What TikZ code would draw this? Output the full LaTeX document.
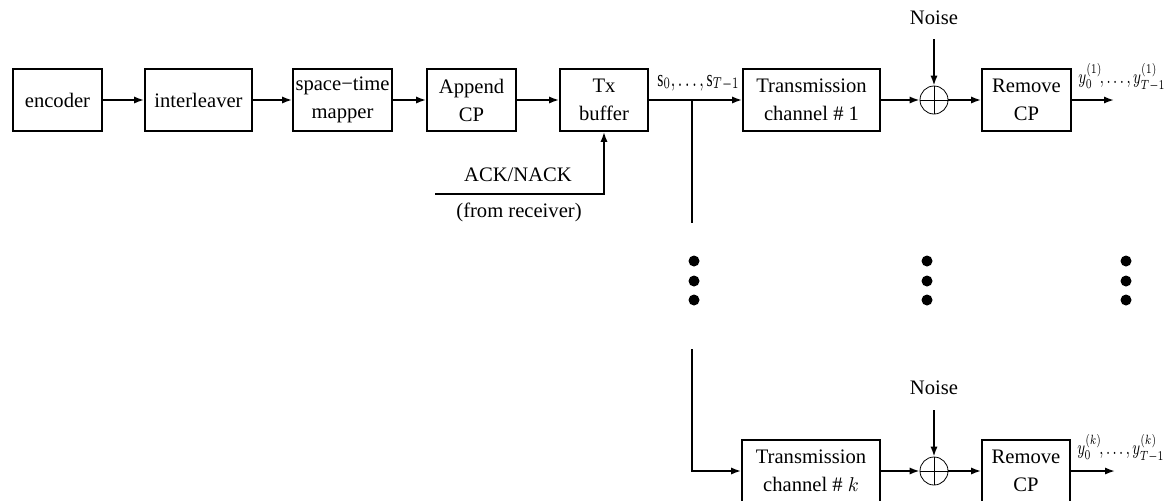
\documentclass[tikz,border=0pt]{standalone}
\usepackage{fontspec}
\usepackage{graphicx}
\setmainfont{Liberation Serif}
\usetikzlibrary{arrows.meta}
\begin{document}
\begin{tikzpicture}[x=0.5pt,y=-0.5pt,
  font=\fontsize{10.3}{14}\selectfont,
  blk/.style={draw,line width=0.9pt,inner sep=0pt,align=center,minimum height=31pt},
  con/.style={line width=0.9pt},
  arr/.style={line width=0.9pt,-{Latex[length=5pt,width=3.6pt]}},
  sumc/.style={draw,circle,line width=0.4pt,minimum size=14pt,inner sep=0pt},
  dot/.style={fill,circle,inner sep=0pt,minimum width=5.5pt,minimum height=5pt},
  lab/.style={inner sep=0pt,font=\fontsize{9}{10}\selectfont}]
\useasboundingbox (0,0) rectangle (1166,500);
% top row
\node[blk,minimum width=44.5pt] (enc) at (57.5,100) {encoder};
\node[blk,minimum width=53.5pt] (intl) at (198.5,100) {interleaver};
\node[blk,minimum width=49.5pt] (stm) at (342.5,100) {space−time\\mapper};
\node[blk,minimum width=44.5pt] (acp) at (471.5,100) {Append\\CP};
\node[blk,minimum width=44pt] (txb) at (604,100) {Tx\\buffer};
\node[blk,minimum width=68.5pt] (ch1) at (811.5,100) {Transmission\\channel \# 1};
\node[sumc] (s1) at (934,100) {};
\node[blk,minimum width=44.5pt] (rcp1) at (1026.5,100) {Remove\\CP};
\node (n1) at (934,18) {Noise};
\coordinate (n1s) at (934,39);
\coordinate (o1) at (1114,100);
\coordinate (br) at (692,100);
\coordinate (brd) at (692,223);
\node[lab,anchor=west] (slab) at (657,83) {\resizebox*{41pt}{8pt}{$\mathrm{s}_0,\ldots,\mathrm{s}_{T{-}1}$}};
\node[lab,anchor=west] (ylab1) at (1078,77) {\resizebox*{43.5pt}{14pt}{$y_0^{(1)}\!,\ldots,y_{T{-}1}^{(1)}$}};
% feedback
\coordinate (ackst) at (435,194);
\coordinate (ackc) at (604,194);
\node (ack) at (518,175) {ACK/NACK};
\node (frm) at (519,212) {(from receiver)};
% edges top
\draw[arr] (enc) -- (intl);
\draw[arr] (intl) -- (stm);
\draw[arr] (stm) -- (acp);
\draw[arr] (acp) -- (txb);
\draw[arr] (txb) -- (ch1);
\draw[con] (br) -- (brd);
\draw[arr] (ch1) -- (s1);
\draw[arr] (s1) -- (rcp1);
\draw[arr] (n1s) -- (s1);
\draw[arr] (rcp1) -- (o1);
\draw[arr] (ackst) -- (ackc) -- (txb);
\draw[line width=0.4pt] (s1.north) -- (s1.south) (s1.west) -- (s1.east);
% dots
\foreach \x in {694,927,1126}{
  \node[dot] at (\x,261) {};
  \node[dot] at (\x,281) {};
  \node[dot] at (\x,300) {};
}
% bottom row
\node[blk,minimum width=69pt] (chk) at (811,471) {Transmission\\channel \# $k$};
\node[sumc] (sk) at (934,471) {};
\node[blk,minimum width=44pt] (rcpk) at (1026,471) {Remove\\CP};
\node (nk) at (934,388) {Noise};
\coordinate (nks) at (934,410);
\coordinate (ok) at (1115,471);
\coordinate (bru) at (692,349);
\node[lab,anchor=west] (ylabk) at (1077,448) {\resizebox*{43.5pt}{14pt}{$y_0^{(k)}\!,\ldots,y_{T{-}1}^{(k)}$}};
\draw[arr] (bru) |- (chk);
\draw[arr] (chk) -- (sk);
\draw[arr] (sk) -- (rcpk);
\draw[arr] (nks) -- (sk);
\draw[arr] (rcpk) -- (ok);
\draw[line width=0.4pt] (sk.north) -- (sk.south) (sk.west) -- (sk.east);
\end{tikzpicture}
\end{document}
